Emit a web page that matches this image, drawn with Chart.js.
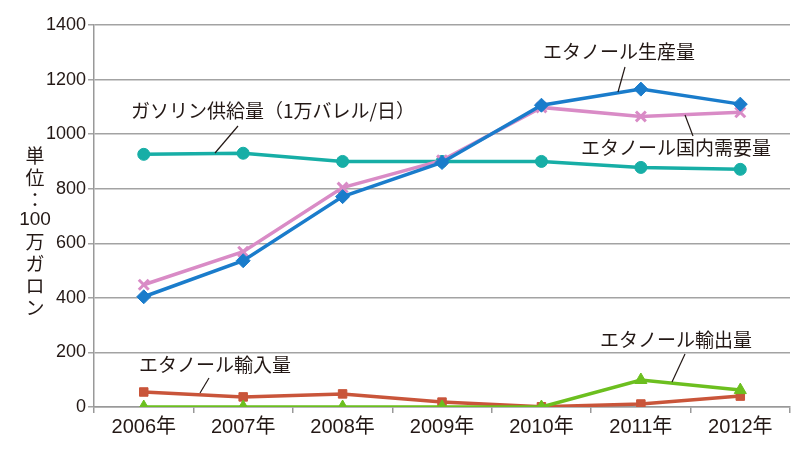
<!DOCTYPE html>
<html>
<head>
<meta charset="utf-8">
<script src="https://cdn.jsdelivr.net/npm/chart.js@4/dist/chart.umd.min.js"></script>
<style>
  html, body { margin: 0; padding: 0; background: #fff; }
  #wrap { width: 800px; height: 450px; }
</style>
</head>
<body>
<div id="wrap"><canvas id="ethanolChart"></canvas></div>
<script>
// categories and series (単位：100万ガロン)
const years = ["2006年", "2007年", "2008年", "2009年", "2010年", "2011年", "2012年"];
const production = [404, 536, 771, 896, 1106, 1165, 1110];
const demand = [448, 569, 804, 904, 1098, 1065, 1080];
const gasoline = [926, 930, 900, 900, 900, 878, 871];
const imports = [55, 37, 48, 18, 1, 11, 40];
const exports = [0, 0, 0, 0, 0, 99, 62];
const yTicks = [0, 200, 400, 600, 800, 1000, 1200, 1400];
const yTitle = ["単", "位", "：", "100", "万", "ガ", "ロ", "ン"];

const FONT = "'Liberation Sans', 'Noto Sans CJK JP', sans-serif";
const JP = "'Noto Sans CJK JP', sans-serif";

// callout labels: text, label position, leader line from / to
const callouts = [
    { text: "ガソリン供給量（1万バレル/日）", x: 131, y: 111, line: [238, 126, 215, 153] },
    { text: "エタノール生産量", x: 543, y: 52, line: [625, 67, 618, 92] },
    { text: "エタノール国内需要量", x: 581, y: 148, line: [693, 136, 685, 115] },
    { text: "エタノール輸入量", x: 139, y: 365, line: [209, 378, 200, 393] },
    { text: "エタノール輸出量", x: 600, y: 340, line: [685, 354, 672, 382] },
];

const annotate = {
    id: "annotate",
    afterDatasetsDraw(chart) {
        const ctx = chart.ctx;
        ctx.save();
        ctx.fillStyle = "#231815";
        ctx.strokeStyle = "#231815";
        ctx.lineWidth = 1.2;
        ctx.font = "19px " + JP;
        ctx.textBaseline = "middle";
        ctx.textAlign = "left";
        callouts.forEach(c => {
            ctx.fillText(c.text, c.x, c.y);
            ctx.beginPath();
            ctx.moveTo(c.line[0], c.line[1]);
            ctx.lineTo(c.line[2], c.line[3]);
            ctx.stroke();
        });
        // vertical axis title, stacked characters
        ctx.textAlign = "center";
        let y = 156;
        for (const ch of yTitle) {
            ctx.font = (ch === "100" ? "19px " + FONT : "19px " + JP);
            ctx.fillText(ch, 35, y);
            y += ch === "：" ? 20 : 22;
        }
        ctx.restore();
    }
};

function ds(label, data, color, style, radius) {
    return {
        label, data,
        borderColor: color,
        backgroundColor: color,
        borderWidth: 3.5,
        pointStyle: style,
        pointRadius: radius,
        pointBorderWidth: style === "crossRot" ? 3 : 1,
        pointBorderColor: color,
        tension: 0,
    };
}

new Chart(document.getElementById("ethanolChart"), {
    type: "line",
    data: {
        labels: years,
        datasets: [
            ds("エタノール輸出量", exports, "#6cbf1f", "triangle", 7),
            ds("エタノール輸入量", imports, "#c9553a", "rect", 6),
            ds("エタノール生産量", production, "#1a7ccb", "rectRot", 7),
            ds("エタノール国内需要量", demand, "#d98bc6", "crossRot", 7),
            ds("ガソリン供給量", gasoline, "#17aea6", "circle", 6),
        ],
    },
    options: {
        responsive: true,
        maintainAspectRatio: false,
        animation: false,
        layout: { padding: { left: 44, right: 6, top: 25, bottom: 9 } },
        plugins: { legend: { display: false }, tooltip: { enabled: false } },
        scales: {
            x: {
                offset: true,
                grid: { offset: true, drawOnChartArea: false, drawTicks: true, tickLength: 6, color: "#999", lineWidth: 1.5 },
                border: { color: "#999", width: 1.5 },
                ticks: { color: "#231815", font: { family: FONT, size: 20 }, padding: 2 },
            },
            y: {
                min: 0, max: 1400,
                afterBuildTicks(axis) { axis.ticks = yTicks.map(v => ({ value: v })); },
                grid: { color: "#a3a3a3", lineWidth: 1.5, tickLength: 6 },
                border: { color: "#999", width: 1.5 },
                ticks: { color: "#231815", font: { family: FONT, size: 18 }, padding: 2, callback: v => String(v) },
            },
        },
    },
    plugins: [annotate],
});
</script>
</body>
</html>
